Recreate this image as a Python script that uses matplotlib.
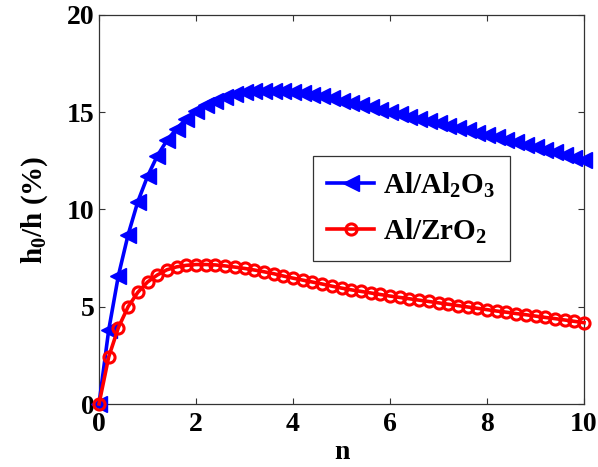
import matplotlib
matplotlib.use("Agg")
import matplotlib.pyplot as plt
import numpy as np

plt.rcParams['font.family'] = 'Liberation Serif'
plt.rcParams['font.weight'] = 'bold'
plt.rcParams['mathtext.fontset'] = 'custom'
plt.rcParams['mathtext.bf'] = 'Liberation Serif:bold'
plt.rcParams['mathtext.rm'] = 'Liberation Serif:bold'

# n values (step 0.2)
n = np.round(np.arange(0, 10.01, 0.2), 1)

# Al/Al2O3 values
al2o3 = [0.0, 3.8, 6.6, 8.7, 10.4, 11.7, 12.75, 13.55, 14.15, 14.65,
         15.05, 15.35, 15.6, 15.8, 15.93, 16.02, 16.07, 16.1, 16.1, 16.08,
         16.05, 15.98, 15.9, 15.81, 15.71, 15.6, 15.49, 15.37, 15.25, 15.13,
         15.0, 14.89, 14.77, 14.66, 14.54, 14.43, 14.31, 14.19, 14.07, 13.95,
         13.83, 13.71, 13.58, 13.46, 13.33, 13.2, 13.07, 12.94, 12.8, 12.67,
         12.53]

# Al/ZrO2 values
zro2 = [0.0, 2.42, 3.93, 5.0, 5.74, 6.27, 6.63, 6.9, 7.05, 7.13,
        7.17, 7.17, 7.15, 7.1, 7.04, 6.97, 6.89, 6.8, 6.7, 6.58,
        6.47, 6.37, 6.27, 6.17, 6.06, 5.96, 5.87, 5.79, 5.71, 5.63,
        5.55, 5.48, 5.41, 5.34, 5.27, 5.2, 5.13, 5.06, 4.99, 4.92,
        4.85, 4.78, 4.72, 4.65, 4.59, 4.52, 4.45, 4.39, 4.32, 4.25,
        4.18]

fig = plt.figure(figsize=(5.98, 4.67), dpi=100)
ax = fig.add_axes([99/598, 1 - 404/467, 485/598, 389/467])

ax.plot(n, al2o3, color='blue', lw=2.6, marker='<', ms=11,
        mfc='blue', mec='blue', clip_on=False, label=r'Al/Al$_\mathbf{2}$O$_\mathbf{3}$', zorder=3)
ax.plot(n, zro2, color='red', lw=2.6, marker='o', ms=8, mfc='none',
        mec='red', mew=2.2, clip_on=False, label=r'Al/ZrO$_\mathbf{2}$', zorder=3)

ax.set_xlim(0, 10)
ax.set_ylim(0, 20)
ax.set_xticks([0, 2, 4, 6, 8, 10])
ax.set_yticks([0, 5, 10, 15, 20])
ax.tick_params(direction='in', top=True, right=True, length=4, width=0.8,
               labelsize=20, color='#333333')
ax.tick_params(axis='x', pad=6)
ax.tick_params(axis='y', pad=3)
for s in ax.spines.values():
    s.set_color('#333333')
    s.set_linewidth(0.9)

ax.set_xlabel('n', fontsize=20, fontweight='bold', labelpad=2)
ax.set_ylabel(r'h$_\mathbf{0}$/h (%)', fontsize=21, fontweight='bold', labelpad=12)

leg = ax.legend(loc='upper left', bbox_to_anchor=(0.441, 0.638), fontsize=21,
                numpoints=1, handlelength=1.6, fancybox=False, framealpha=1,
                edgecolor='#333333', borderpad=0.5, labelspacing=0.55,
                handletextpad=0.3, borderaxespad=0)
leg.get_frame().set_linewidth(0.9)

fig.savefig('out.png', dpi=100)
